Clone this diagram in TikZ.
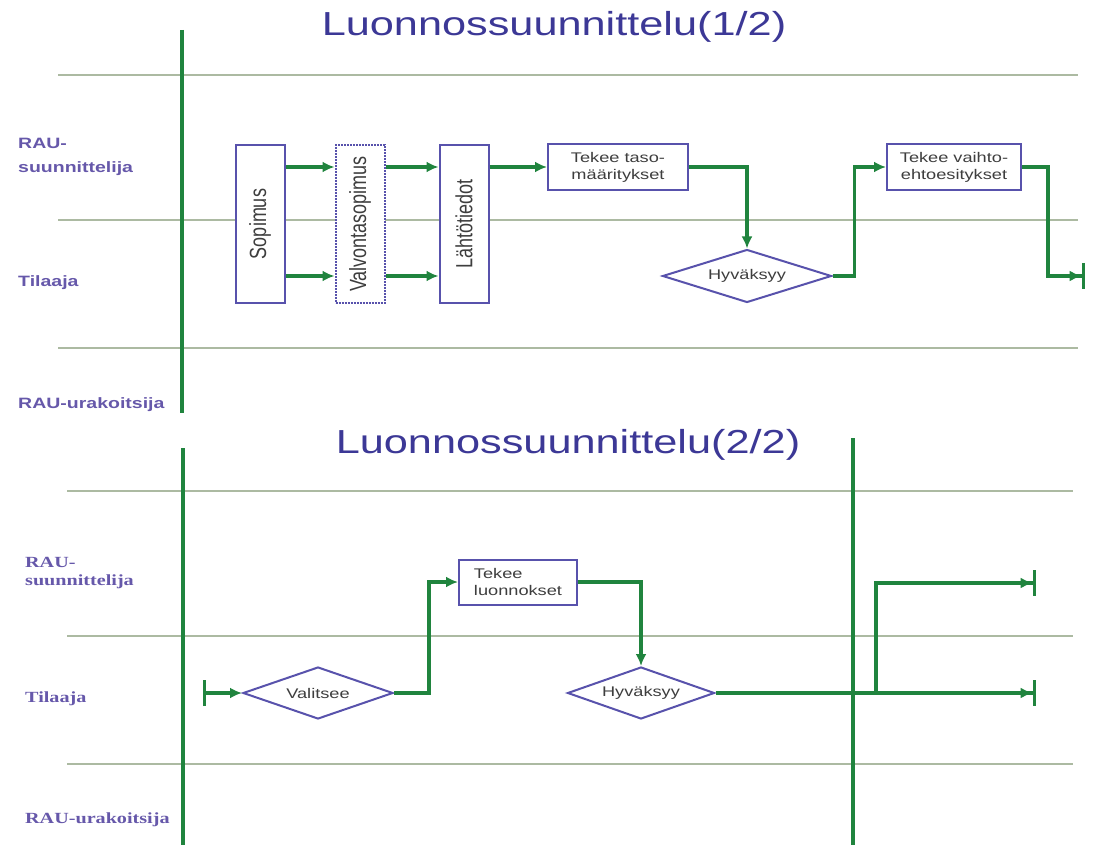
\documentclass[tikz,border=0pt]{standalone}
\usepackage{fontspec}
\setmainfont{Liberation Sans}[FakeStretch=1.3]
\newfontfamily\narrowsans{Liberation Sans}
\newfontfamily\wideserif{Liberation Serif}[FakeStretch=1.3]
\usepackage{graphicx}
\usetikzlibrary{shapes.geometric,arrows.meta}

\definecolor{flowgreen}{RGB}{32,132,62}
\definecolor{laneline}{RGB}{172,186,162}
\definecolor{boxblue}{RGB}{88,82,172}
\definecolor{titleblue}{RGB}{60,56,150}
\definecolor{lanetext}{RGB}{102,88,170}
\definecolor{textgray}{RGB}{62,62,62}

\begin{document}
\begin{tikzpicture}[x=1pt,y=-1pt]
  \tikzstyle{lane}=[draw=laneline,line width=2pt]
  \tikzstyle{swim}=[draw=flowgreen,line width=3.2pt]
  \tikzstyle{flow}=[draw=flowgreen,line width=3.4pt,-{Latex[length=12pt,width=11pt]}]
  \tikzstyle{endflow}=[flow,-{Latex[length=12pt,width=11pt]Bar[width=26pt]}]
  \tikzstyle{startflow}=[flow,{Bar[width=26pt]}-{Latex[length=12pt,width=11pt]}]
  \tikzstyle{title}=[anchor=base,text=titleblue,font=\fontsize{33.3}{36}\selectfont]
  \tikzstyle{who}=[text=lanetext,font=\bfseries\fontsize{15}{24}\selectfont,align=left,inner sep=0pt]
  \tikzstyle{whoserif}=[text=lanetext,font=\wideserif\bfseries\fontsize{15.5}{18}\selectfont,align=left,inner sep=0pt]
  \tikzstyle{vbox}=[draw=boxblue,line width=2pt,fill=white,inner sep=0pt,minimum width=49pt,minimum height=158pt,text=textgray,font=\narrowsans\fontsize{18}{20}\selectfont]
  \tikzstyle{task}=[draw=boxblue,line width=2pt,fill=white,inner sep=0pt,minimum height=46pt,text=textgray,font=\fontsize{14}{17}\selectfont]
  \tikzstyle{choice}=[diamond,draw=boxblue,line width=2pt,fill=white,inner sep=0pt,text=textgray,font=\fontsize{14}{17}\selectfont]

  \useasboundingbox (0,0) rectangle (1097,850);

  % Luonnossuunnittelu 1/2
  \node[title] (title1) at (554,36) {Luonnossuunnittelu(1/2)};
  \draw[lane] (58,75) -- (1078,75);
  \draw[lane] (58,220) -- (1078,220);
  \draw[lane] (58,348) -- (1078,348);
  \draw[swim] (182,30) -- (182,413);

  \node[who,anchor=west] (suun1) at (18,157) {RAU-\\suunnittelija};
  \node[who,anchor=base west] (tila1) at (18,287) {Tilaaja};
  \node[who,anchor=base west] (urak1) at (18,408) {RAU-urakoitsija};

  \coordinate (r1) at (0,167);
  \coordinate (r2) at (0,276);
  \node[vbox] (sop) at (260,224) {\rotatebox{90}{\scalebox{1}[1.3]{Sopimus}}};
  \node[vbox,densely dotted] (valv) at (360,224) {\rotatebox{90}{\scalebox{1}[1.3]{Valvontasopimus}}};
  \node[vbox] (laht) at (464,224) {\rotatebox{90}{\scalebox{1}[1.3]{Lähtötiedot}}};
  \node[task,minimum width=140pt,align=center] (taso) at (618,167) {Tekee taso-\\määritykset};
  \node[choice,aspect=3.2,minimum width=169pt,minimum height=53pt] (hyv1) at (747,276) {Hyväksyy};
  \node[task,minimum width=134pt,align=center] (vaihto) at (954,167) {Tekee vaihto-\\ehtoesitykset};
  \coordinate (end1) at (1085,276);

  \draw[flow] (sop.east |- r1) -- (valv.west |- r1);
  \draw[flow] (sop.east |- r2) -- (valv.west |- r2);
  \draw[flow] (valv.east |- r1) -- (laht.west |- r1);
  \draw[flow] (valv.east |- r2) -- (laht.west |- r2);
  \draw[flow] (laht.east |- taso.west) -- (taso.west);
  \draw[flow] (taso.east) -| (hyv1.north);
  \draw[flow] (hyv1.east) -- ++(22,0) |- (vaihto.west);
  \draw[endflow] (vaihto.east) -- ++(26,0) |- (end1);

  % Luonnossuunnittelu 2/2
  \node[title] (title2) at (568,453) {Luonnossuunnittelu(2/2)};
  \draw[lane] (67,491) -- (1073,491);
  \draw[lane] (67,636) -- (1073,636);
  \draw[lane] (67,764) -- (1073,764);
  \draw[swim] (183,448) -- (183,845);
  \draw[swim] (853,438) -- (853,845);

  \node[whoserif,anchor=west] (suun2) at (25,573) {RAU-\\suunnittelija};
  \node[whoserif,anchor=base west] (tila2) at (25,702) {Tilaaja};
  \node[whoserif,anchor=base west] (urak2) at (25,823) {RAU-urakoitsija};

  \coordinate (start2) at (203,693);
  \node[choice,aspect=2.9,minimum width=150pt,minimum height=52pt] (valit) at (318,693) {Valitsee};
  \node[task,minimum width=118pt,minimum height=45pt,align=left] (luon) at (518,582) {Tekee\\luonnokset};
  \node[choice,aspect=2.8,minimum width=147pt,minimum height=52pt] (hyv2) at (641,693) {Hyväksyy};
  \coordinate (split) at (876,693);
  \coordinate (end2) at (1036,693);
  \coordinate (end3) at (1036,583);

  \draw[startflow] (start2) -- (valit.west);
  \draw[flow] (valit.east) -- ++(35,0) |- (luon.west);
  \draw[flow] (luon.east) -| (hyv2.north);
  \draw[endflow] (hyv2.east) -- (end2);
  \draw[endflow] (split) |- (end3);
\end{tikzpicture}
\end{document}
